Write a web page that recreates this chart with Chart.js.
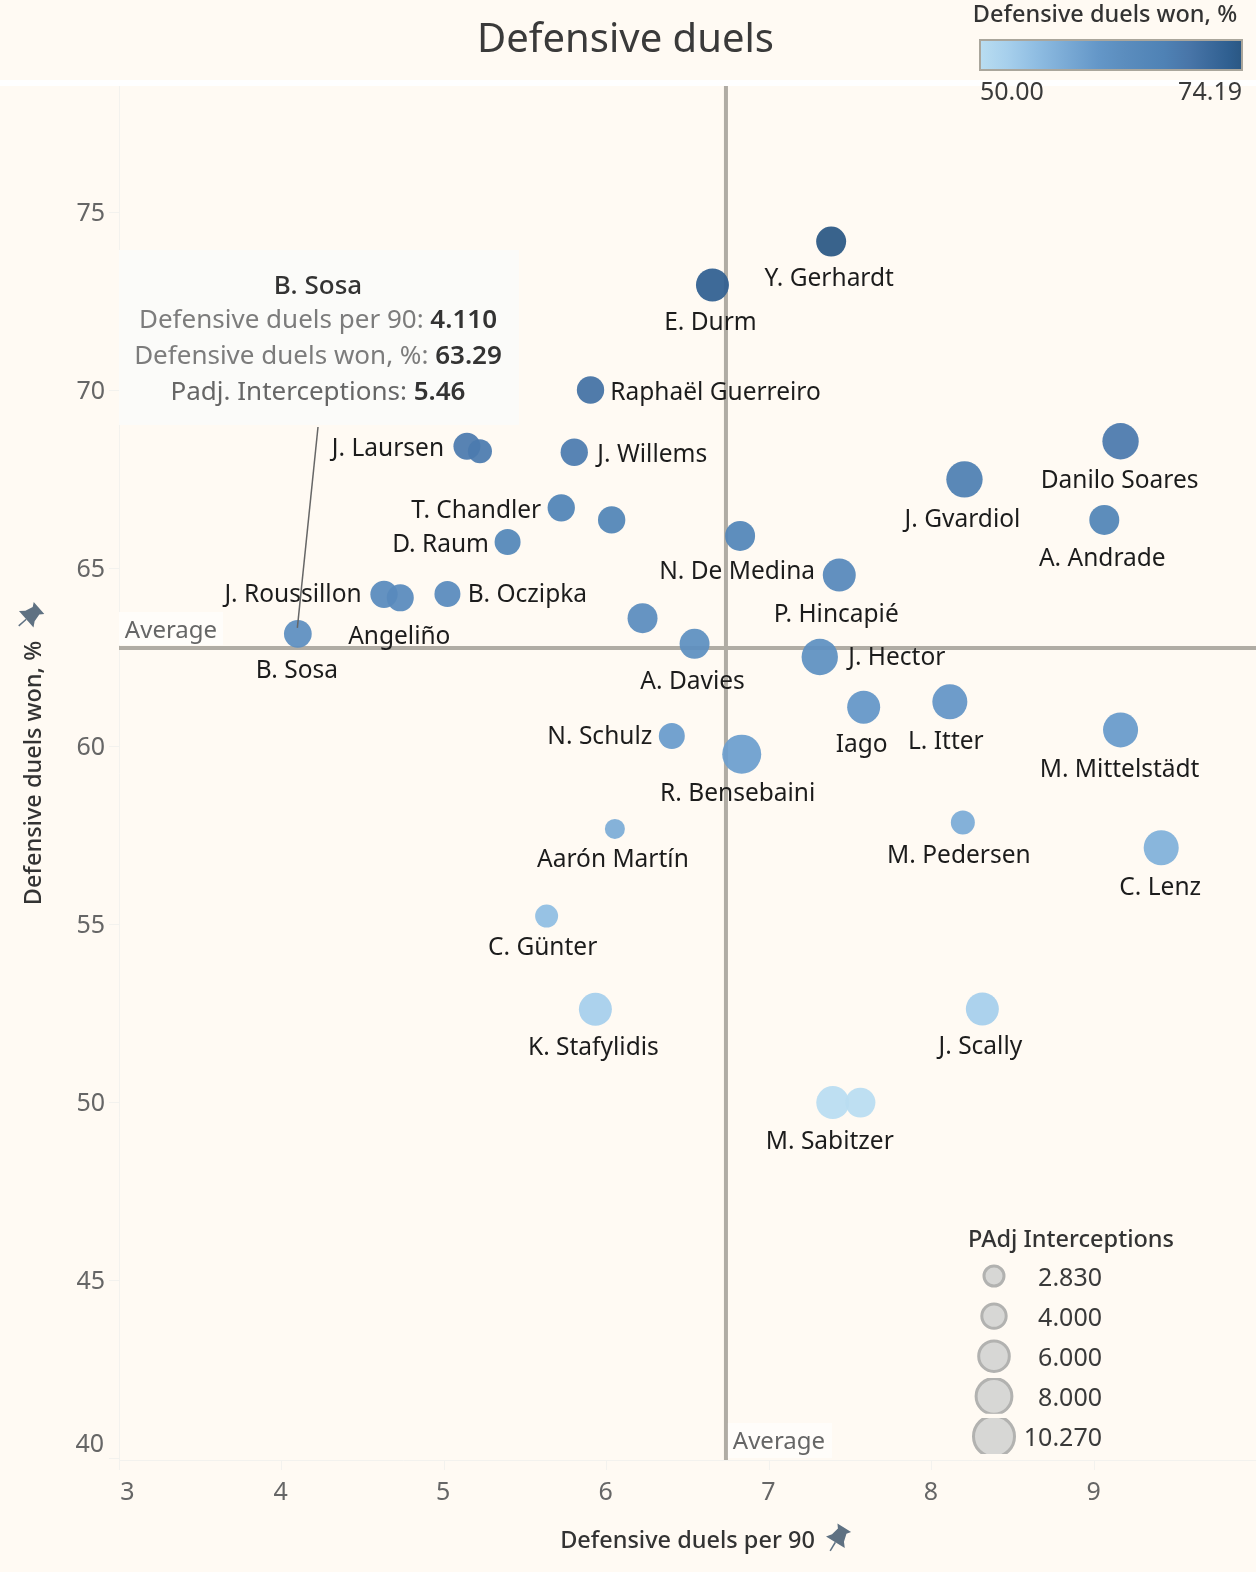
<!DOCTYPE html>
<html lang="en">
<head>
<meta charset="UTF-8" />
<title>Defensive duels</title>
<script src="https://cdn.jsdelivr.net/npm/chart.js"></script>
<style>
  body { margin: 0; background: #fffaf3; }
  canvas { display: block; }
</style>
</head>
<body>
<canvas id="duelsChart" width="1256" height="1572"></canvas>
<script>
// values
const players = ["Y. Gerhardt", "E. Durm", "Raphaël Guerreiro", "J. Willems", "J. Laursen", "", "T. Chandler", "", "D. Raum", "N. De Medina",
  "B. Oczipka", "J. Roussillon", "Angeliño", "", "A. Davies", "J. Hector", "Iago", "N. Schulz", "R. Bensebaini", "Aarón Martín",
  "C. Günter", "Danilo Soares", "J. Gvardiol", "A. Andrade", "P. Hincapié", "L. Itter", "M. Mittelstädt", "M. Pedersen", "C. Lenz", "J. Scally",
  "M. Sabitzer", "", "K. Stafylidis", "B. Sosa"];
const duelsPer90 = [7.38, 6.65, 5.90, 5.80, 5.14, 5.22, 5.72, 6.03, 5.39, 6.82,
  5.02, 4.63, 4.73, 6.22, 6.54, 7.31, 7.58, 6.40, 6.83, 6.05,
  5.63, 9.16, 8.20, 9.06, 7.43, 8.11, 9.16, 8.19, 9.41, 8.31,
  7.39, 7.56, 5.93, 4.10];
const duelsWon = [74.19, 72.97, 70.02, 68.27, 68.44, 68.30, 66.71, 66.37, 65.75, 65.92,
  64.29, 64.28, 64.18, 63.61, 62.89, 62.52, 61.11, 60.30, 59.79, 57.69,
  55.24, 68.58, 67.51, 66.37, 64.82, 61.26, 60.47, 57.87, 57.16, 52.63,
  50.00, 50.00, 52.62, 63.17];
const interceptions = [6.28, 7.50, 5.31, 5.31, 5.19, 4.21, 5.31, 5.31, 4.85, 6.28,
  4.85, 5.31, 5.19, 6.28, 6.28, 8.99, 7.50, 4.85, 10.27, 3.08,
  3.91, 8.99, 8.99, 6.28, 7.50, 8.39, 8.39, 4.21, 8.39, 7.50,
  7.50, 6.28, 7.50, 5.46];

const xTickValues = [3, 4, 5, 6, 7, 8, 9];
const yTickValues = [40, 45, 50, 55, 60, 65, 70, 75];
const avgPer90 = 6.733;
const avgWon = 62.77;
const colorLegendLabels = ["50.00", "74.19"];
const wonMin = 50, wonMax = 74.19;
const sizeLegendValues = [2.83, 4, 6, 8, 10.27];
const sizeLegendLabels = ["2.830", "4.000", "6.000", "8.000", "10.270"];
const tooltipRows = [
  ["Defensive duels per 90: ", "4.110"],
  ["Defensive duels won, %: ", "63.29"],
  ["Padj. Interceptions: ", "5.46"]
];

// name label offset from its mark, same order as players
const labelOffsets = [[-2,36],[-2,37],[125,2],[78,2],[-79,2],[0,0],[-85,2],[0,0],[-67,2],[-3,35],
  [80,0],[-91,0],[-1,38],[0,0],[-2,37],[77,0],[-2,37],[-72,0],[-4,39],[-2,30],
  [-4,31],[-1,39],[-2,40],[-2,38],[-3,39],[-4,39],[-1,39],[-4,33],[-1,39],[-2,37],
  [-3,38],[0,0],[-2,38],[-1,36]];

const FONT = '"Noto Sans", sans-serif';
const colorStops = [
  [0, [185,221,241]], [0.107, [166,207,236]], [0.215, [143,189,226]], [0.33, [122,170,213]],
  [0.45, [100,151,200]], [0.55, [91,141,190]], [0.7, [79,130,181]], [0.8, [72,117,168]],
  [0.95, [47,95,144]], [1, [42,87,131]]
];

function wonColor(v) {
  const t = Math.min(1, Math.max(0, (v - wonMin) / (wonMax - wonMin)));
  for (let i = 1; i < colorStops.length; i++) {
    if (t <= colorStops[i][0]) {
      const [t0, c0] = colorStops[i - 1];
      const [t1, c1] = colorStops[i];
      const k = (t - t0) / (t1 - t0);
      return `rgba(${c0.map((c, j) => Math.round(c + (c1[j] - c) * k)).join(",")},0.93)`;
    }
  }
  return "rgb(42,87,131)";
}

// mark area grows linearly with interceptions
function markRadius(v) { return Math.sqrt(361 + 155.9 * (v - 2.83)) / 2; }
function legendRadius(v) { return Math.sqrt(529 + 189 * (v - 2.83)) / 2; }

function drawPin(ctx, x, y, angle) {
  ctx.save();
  ctx.translate(x, y);
  ctx.rotate(angle);
  ctx.fillStyle = "#5f7182";
  ctx.strokeStyle = "#5f7182";
  ctx.beginPath();
  ctx.moveTo(-8, -12); ctx.lineTo(8, -12); ctx.lineTo(5, -8); ctx.lineTo(7, 0); ctx.lineTo(11, 5);
  ctx.lineTo(-11, 5); ctx.lineTo(-7, 0); ctx.lineTo(-5, -8);
  ctx.closePath();
  ctx.fill();
  ctx.lineWidth = 1.5;
  ctx.beginPath(); ctx.moveTo(0, 5); ctx.lineTo(0, 15); ctx.stroke();
  ctx.restore();
}

function text(ctx, str, x, y, font, color, align) {
  ctx.font = font;
  ctx.fillStyle = color;
  ctx.textAlign = align || "center";
  ctx.textBaseline = "middle";
  ctx.fillText(str, x, y + 1);
}

const backdrop = {
  id: "backdrop",
  beforeDraw(chart) {
    const ctx = chart.ctx;
    ctx.save();
    ctx.fillStyle = "#fffaf3";
    ctx.fillRect(0, 0, chart.width, chart.height);
    ctx.fillStyle = "#ffffff";
    ctx.fillRect(0, 80, chart.width, 6);
    ctx.restore();
  },
  beforeDatasetsDraw(chart) {
    // average lines sit under the marks
    const ctx = chart.ctx, a = chart.chartArea;
    const ax = chart.scales.x.getPixelForValue(avgPer90);
    const ay = chart.scales.y.getPixelForValue(avgWon);
    ctx.save();
    ctx.strokeStyle = "#b0aca4";
    ctx.lineWidth = 4;
    ctx.beginPath();
    ctx.moveTo(a.left, ay); ctx.lineTo(a.right, ay);
    ctx.moveTo(ax, a.top); ctx.lineTo(ax, a.bottom);
    ctx.stroke();
    ctx.restore();
  }
};

const overlay = {
  id: "overlay",
  afterDatasetsDraw(chart) {
    const ctx = chart.ctx, a = chart.chartArea;
    const sx = chart.scales.x, sy = chart.scales.y;
    ctx.save();

    // title
    text(ctx, "Defensive duels", 625.5, 40, `40px ${FONT}`, "#3a3a3a");

    // ticks moved inside so they fit the corner
    text(ctx, "3", 127.5, 1492, `25px ${FONT}`, "#666666");
    text(ctx, "40", 104, 1444, `25px ${FONT}`, "#666666", "right");

    // name labels
    players.forEach((name, i) => {
      if (!name) return;
      const [dx, dy] = labelOffsets[i];
      text(ctx, name, sx.getPixelForValue(duelsPer90[i]) + dx, sy.getPixelForValue(duelsWon[i]) + dy,
        `24.5px ${FONT}`, "#1c1c1c");
    });

    // average captions
    ctx.fillStyle = "#fffdfa";
    ctx.fillRect(a.left, 612, 104, 33);
    text(ctx, "Average", 171, 630, `24px ${FONT}`, "#666666");
    const ax = sx.getPixelForValue(avgPer90);
    ctx.fillStyle = "#fffdfa";
    ctx.fillRect(ax + 2, 1423, 104, 35);
    text(ctx, "Average", ax + 53, 1441, `24px ${FONT}`, "#666666");

    // annotation box
    ctx.fillStyle = "#fbfbf9";
    ctx.fillRect(119, 250, 400, 175);
    text(ctx, "B. Sosa", 318, 286, `500 26px ${FONT}`, "#333333");
    tooltipRows.forEach((row, i) => {
      const y = [320, 356, 392][i];
      const labelColor = ["#7c7c7c", "#7c7c7c", "#666666"][i];
      ctx.font = `26px ${FONT}`;
      const w1 = ctx.measureText(row[0]).width;
      ctx.font = `600 26px ${FONT}`;
      const w2 = ctx.measureText(row[1]).width;
      const left = 318 - (w1 + w2) / 2;
      text(ctx, row[0], left, y, `26px ${FONT}`, labelColor, "left");
      text(ctx, row[1], left + w1, y, `600 26px ${FONT}`, "#333333", "left");
    });
    const last = players.length - 1;
    ctx.strokeStyle = "#666666";
    ctx.lineWidth = 1.5;
    ctx.beginPath();
    ctx.moveTo(318, 427);
    ctx.lineTo(sx.getPixelForValue(duelsPer90[last]) - 0.5, sy.getPixelForValue(duelsWon[last]) - 6);
    ctx.stroke();

    // colour legend
    text(ctx, "Defensive duels won, %", 1105, 14, `500 23.5px ${FONT}`, "#333333");
    const grad = ctx.createLinearGradient(980, 0, 1242, 0);
    colorStops.forEach(s => grad.addColorStop(s[0], `rgb(${s[1].join(",")})`));
    ctx.fillStyle = grad;
    ctx.fillRect(980, 40, 262, 30);
    ctx.strokeStyle = "#aaa69c";
    ctx.lineWidth = 2;
    ctx.strokeRect(980, 40, 262, 30);
    text(ctx, colorLegendLabels[0], 980, 92, `25px ${FONT}`, "#3a3a3a", "left");
    text(ctx, colorLegendLabels[1], 1242, 92, `25px ${FONT}`, "#3a3a3a", "right");

    // size legend
    text(ctx, "PAdj Interceptions", 1071, 1239, `500 23.5px ${FONT}`, "#333333");
    sizeLegendValues.forEach((v, i) => {
      const cy = 1276 + i * 40.1;
      const r = legendRadius(v);
      ctx.save();
      ctx.beginPath();
      ctx.rect(960, cy - 18.4, 70, 35.9);
      ctx.clip();
      ctx.beginPath();
      ctx.arc(994, cy, r - 1.5, 0, Math.PI * 2);
      ctx.fillStyle = "#d7d7d5";
      ctx.fill();
      ctx.lineWidth = 3;
      ctx.strokeStyle = "#b2b2b0";
      ctx.stroke();
      ctx.restore();
      text(ctx, sizeLegendLabels[i], 1102, cy + 1.5, `25px ${FONT}`, "#3a3a3a", "right");
    });

    // pins beside the axis titles
    drawPin(ctx, 838, 1538, 0.55);
    drawPin(ctx, 30, 616, 0.85);
    ctx.restore();
  }
};

new Chart(document.getElementById("duelsChart").getContext("2d"), {
  type: "bubble",
  data: {
    datasets: [{
      label: "Defensive duels",
      data: duelsPer90.map((x, i) => ({ x: x, y: duelsWon[i], r: markRadius(interceptions[i]) })),
      backgroundColor: duelsWon.map(wonColor),
      borderWidth: 0,
      hoverBorderWidth: 0
    }]
  },
  options: {
    responsive: false,
    animation: false,
    events: [],
    layout: { autoPadding: false, padding: { top: 86, right: 0, bottom: 0, left: 0 } },
    plugins: { legend: { display: false }, tooltip: { enabled: false } },
    scales: {
      x: {
        type: "linear",
        min: 3,
        max: 9.993,
        afterBuildTicks(scale) { scale.ticks = xTickValues.map(v => ({ value: v })); },
        afterFit(scale) { scale.height = 112; },
        grid: { drawOnChartArea: false, color: "#f3f2ee", tickLength: 10 },
        border: { color: "#f3f2ee" },
        ticks: {
          color: "#666666",
          font: { family: "Noto Sans", size: 25 },
          maxRotation: 0,
          autoSkip: false,
          padding: 8,
          labelOffset: -1,
          callback: v => (v === 3 ? "" : String(v))
        },
        title: {
          display: true,
          text: "Defensive duels per 90",
          color: "#333333",
          font: { family: "Noto Sans", size: 23.5, weight: "500" },
          padding: { top: 0, bottom: 17 }
        }
      },
      y: {
        type: "linear",
        min: 39.96,
        max: 78.56,
        afterBuildTicks(scale) { scale.ticks = yTickValues.map(v => ({ value: v })); },
        afterFit(scale) { scale.width = 119; },
        grid: { drawOnChartArea: false, color: "#f3f2ee", tickLength: 10 },
        border: { color: "#f3f2ee" },
        ticks: {
          color: "#666666",
          font: { family: "Noto Sans", size: 25 },
          autoSkip: false,
          padding: 4,
          labelOffset: 1,
          callback: v => (v === 40 ? "" : String(v))
        },
        title: {
          display: true,
          text: "Defensive duels won, %",
          color: "#333333",
          font: { family: "Noto Sans", size: 23.5, weight: "500" },
          padding: { top: 20, bottom: 0 }
        }
      }
    }
  },
  plugins: [backdrop, overlay]
});
</script>
</body>
</html>
